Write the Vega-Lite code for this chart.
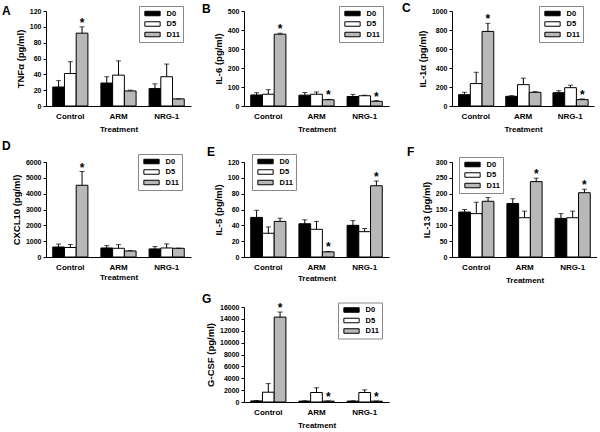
{
  "$schema": "https://vega.github.io/schema/vega-lite/v6.json",
  "padding": {"left": 2, "top": 2, "right": 0, "bottom": 0},
  "background": "white",
  "datasets": {
    "A": [
      {"t": "Control", "d": "D0", "v": 24, "e": 32, "s": ""},
      {"t": "Control", "d": "D5", "v": 41, "e": 56, "s": ""},
      {"t": "Control", "d": "D11", "v": 92, "e": 100, "s": "*"},
      {"t": "ARM", "d": "D0", "v": 29, "e": 37, "s": ""},
      {"t": "ARM", "d": "D5", "v": 39, "e": 57, "s": ""},
      {"t": "ARM", "d": "D11", "v": 19, "e": 20, "s": ""},
      {"t": "NRG-1", "d": "D0", "v": 22, "e": 28, "s": ""},
      {"t": "NRG-1", "d": "D5", "v": 37, "e": 53, "s": ""},
      {"t": "NRG-1", "d": "D11", "v": 9, "e": 9, "s": ""}
    ],
    "B": [
      {"t": "Control", "d": "D0", "v": 58, "e": 70, "s": ""},
      {"t": "Control", "d": "D5", "v": 62, "e": 86, "s": ""},
      {"t": "Control", "d": "D11", "v": 378, "e": 383, "s": "*"},
      {"t": "ARM", "d": "D0", "v": 57, "e": 71, "s": ""},
      {"t": "ARM", "d": "D5", "v": 62, "e": 74, "s": ""},
      {"t": "ARM", "d": "D11", "v": 33, "e": 35, "s": "*"},
      {"t": "NRG-1", "d": "D0", "v": 50, "e": 61, "s": ""},
      {"t": "NRG-1", "d": "D5", "v": 54, "e": 57, "s": ""},
      {"t": "NRG-1", "d": "D11", "v": 25, "e": 28, "s": "*"}
    ],
    "C": [
      {"t": "Control", "d": "D0", "v": 119, "e": 144, "s": ""},
      {"t": "Control", "d": "D5", "v": 236, "e": 355, "s": ""},
      {"t": "Control", "d": "D11", "v": 785, "e": 870, "s": "*"},
      {"t": "ARM", "d": "D0", "v": 102, "e": 109, "s": ""},
      {"t": "ARM", "d": "D5", "v": 225, "e": 293, "s": ""},
      {"t": "ARM", "d": "D11", "v": 144, "e": 151, "s": ""},
      {"t": "NRG-1", "d": "D0", "v": 140, "e": 161, "s": ""},
      {"t": "NRG-1", "d": "D5", "v": 193, "e": 219, "s": ""},
      {"t": "NRG-1", "d": "D11", "v": 67, "e": 74, "s": "*"}
    ],
    "D": [
      {"t": "Control", "d": "D0", "v": 630, "e": 820, "s": ""},
      {"t": "Control", "d": "D5", "v": 600, "e": 790, "s": ""},
      {"t": "Control", "d": "D11", "v": 4530, "e": 5400, "s": "*"},
      {"t": "ARM", "d": "D0", "v": 570, "e": 720, "s": ""},
      {"t": "ARM", "d": "D5", "v": 550, "e": 780, "s": ""},
      {"t": "ARM", "d": "D11", "v": 380, "e": 400, "s": ""},
      {"t": "NRG-1", "d": "D0", "v": 510, "e": 660, "s": ""},
      {"t": "NRG-1", "d": "D5", "v": 570, "e": 830, "s": ""},
      {"t": "NRG-1", "d": "D11", "v": 550, "e": 560, "s": ""}
    ],
    "E": [
      {"t": "Control", "d": "D0", "v": 50, "e": 59, "s": ""},
      {"t": "Control", "d": "D5", "v": 30, "e": 38, "s": ""},
      {"t": "Control", "d": "D11", "v": 45, "e": 49, "s": ""},
      {"t": "ARM", "d": "D0", "v": 42, "e": 47, "s": ""},
      {"t": "ARM", "d": "D5", "v": 35, "e": 45, "s": ""},
      {"t": "ARM", "d": "D11", "v": 6.5, "e": 7, "s": "*"},
      {"t": "NRG-1", "d": "D0", "v": 40, "e": 46, "s": ""},
      {"t": "NRG-1", "d": "D5", "v": 32, "e": 36, "s": ""},
      {"t": "NRG-1", "d": "D11", "v": 90, "e": 96, "s": "*"}
    ],
    "F": [
      {"t": "Control", "d": "D0", "v": 142, "e": 150, "s": ""},
      {"t": "Control", "d": "D5", "v": 137, "e": 173, "s": ""},
      {"t": "Control", "d": "D11", "v": 176, "e": 188, "s": ""},
      {"t": "ARM", "d": "D0", "v": 169, "e": 184, "s": ""},
      {"t": "ARM", "d": "D5", "v": 124, "e": 145, "s": ""},
      {"t": "ARM", "d": "D11", "v": 238, "e": 249, "s": "*"},
      {"t": "NRG-1", "d": "D0", "v": 122, "e": 137, "s": ""},
      {"t": "NRG-1", "d": "D5", "v": 124, "e": 145, "s": ""},
      {"t": "NRG-1", "d": "D11", "v": 203, "e": 214, "s": "*"}
    ],
    "G": [
      {"t": "Control", "d": "D0", "v": 180, "e": 250, "s": ""},
      {"t": "Control", "d": "D5", "v": 1650, "e": 3100, "s": ""},
      {"t": "Control", "d": "D11", "v": 14300, "e": 15150, "s": "*"},
      {"t": "ARM", "d": "D0", "v": 150, "e": 200, "s": ""},
      {"t": "ARM", "d": "D5", "v": 1600, "e": 2400, "s": ""},
      {"t": "ARM", "d": "D11", "v": 150, "e": 180, "s": "*"},
      {"t": "NRG-1", "d": "D0", "v": 150, "e": 200, "s": ""},
      {"t": "NRG-1", "d": "D5", "v": 1600, "e": 2050, "s": ""},
      {"t": "NRG-1", "d": "D11", "v": 140, "e": 170, "s": "*"}
    ]
  },
  "config": {
    "view": {"stroke": null},
    "font": "Liberation Sans",
    "axis": {"domainColor": "black", "tickColor": "black", "labelColor": "black", "titleColor": "black", "labelFont": "Liberation Sans", "titleFont": "Liberation Sans", "labelFontWeight": "bold", "titleFontWeight": "bold", "grid": false, "tickSize": 3, "domainWidth": 1, "tickWidth": 1},
    "axisY": {"labelFontSize": 7, "titleFontSize": 9.5, "labelPadding": 2, "titlePadding": 4, "format": "d"},
    "axisX": {"labelFontSize": 8, "titleFontSize": 8, "ticks": false, "labelAngle": 0, "labelPadding": 6, "titlePadding": 5},
    "legend": {"orient": "none", "title": null, "symbolType": "M-1.7,-0.5H1.7V0.5H-1.7Z", "symbolSize": 81, "symbolStrokeColor": "black", "symbolStrokeWidth": 1, "symbolOffset": 6, "labelOffset": 9, "strokeColor": "#888888", "fillColor": "white", "padding": 2.5, "rowPadding": 0.5, "labelFontSize": 7.5, "labelFont": "Liberation Sans", "labelFontWeight": "bold", "labelColor": "black"},
    "title": {"font": "Liberation Sans", "fontSize": 12, "fontWeight": "bold", "anchor": "start", "frame": "group", "color": "black", "offset": 0}
  },
  "columns": 3,
  "bounds": "flush",
  "spacing": {"row": 50, "column": 53},
  "resolve": {"scale": {"color": "independent"}, "legend": {"color": "independent"}},
  "concat": [
    {
      "width": 145, "height": 101,
      "title": {"text": "A", "dx": -44, "dy": 16.5},
      "data": {"name": "A"},
      "encoding": {
        "x": {"field": "t", "type": "nominal", "sort": ["Control", "ARM", "NRG-1"], "title": "Treatment", "scale": {"paddingInner": 0.27, "paddingOuter": 0.14}, "axis": {"offset": -6}},
        "xOffset": {"field": "d", "type": "nominal", "sort": ["D0", "D5", "D11"], "scale": {"paddingInner": 0, "paddingOuter": 0}},
        "y": {"field": "v", "type": "quantitative", "title": "TNFα (pg/ml)", "scale": {"domain": [0, 120], "nice": false, "range": [95, 0]}, "axis": {"values": [0, 20, 40, 60, 80, 100, 120]}}
      },
      "layer": [
        {"mark": {"type": "bar", "stroke": "black", "strokeWidth": 1}, "encoding": {"color": {"field": "d", "type": "nominal", "scale": {"domain": ["D0", "D5", "D11"], "range": ["#000000", "#ffffff", "#b8b8b8"]}, "legend": {"legendX": 93, "legendY": -5}}}},
        {"mark": {"type": "rule", "color": "black"}, "encoding": {"y2": {"field": "e"}}},
        {"mark": {"type": "tick", "color": "black", "size": 5, "thickness": 1}, "encoding": {"y": {"field": "e", "type": "quantitative", "title": "TNFα (pg/ml)", "scale": {"domain": [0, 120], "nice": false, "range": [95, 0]}, "axis": {"values": [0, 20, 40, 60, 80, 100, 120]}}}},
        {"mark": {"type": "text", "fontSize": 12, "fontWeight": "bold", "baseline": "alphabetic", "color": "black"}, "encoding": {"y": {"field": "e", "type": "quantitative", "title": "TNFα (pg/ml)", "scale": {"domain": [0, 120], "nice": false, "range": [95, 0]}, "axis": {"values": [0, 20, 40, 60, 80, 100, 120]}}, "text": {"field": "s"}}}
      ]
    },
    {
      "width": 155, "height": 101,
      "title": {"text": "B", "dx": -42, "dy": 14},
      "data": {"name": "B"},
      "encoding": {
        "x": {"field": "t", "type": "nominal", "sort": ["Control", "ARM", "NRG-1"], "title": "Treatment", "scale": {"paddingInner": 0.27, "paddingOuter": 0.14, "range": [0, 145]}, "axis": {"offset": -6}},
        "xOffset": {"field": "d", "type": "nominal", "sort": ["D0", "D5", "D11"], "scale": {"paddingInner": 0, "paddingOuter": 0}},
        "y": {"field": "v", "type": "quantitative", "title": "IL-6 (pg/ml)", "scale": {"domain": [0, 500], "nice": false, "range": [95, 0]}, "axis": {"values": [0, 100, 200, 300, 400, 500]}}
      },
      "layer": [
        {"mark": {"type": "bar", "stroke": "black", "strokeWidth": 1}, "encoding": {"color": {"field": "d", "type": "nominal", "scale": {"domain": ["D0", "D5", "D11"], "range": ["#000000", "#ffffff", "#b8b8b8"]}, "legend": {"legendX": 95, "legendY": -5}}}},
        {"mark": {"type": "rule", "color": "black"}, "encoding": {"y2": {"field": "e"}}},
        {"mark": {"type": "tick", "color": "black", "size": 5, "thickness": 1}, "encoding": {"y": {"field": "e", "type": "quantitative", "title": "IL-6 (pg/ml)", "scale": {"domain": [0, 500], "nice": false, "range": [95, 0]}, "axis": {"values": [0, 100, 200, 300, 400, 500]}}}},
        {"mark": {"type": "text", "fontSize": 12, "fontWeight": "bold", "baseline": "alphabetic", "color": "black"}, "encoding": {"y": {"field": "e", "type": "quantitative", "title": "IL-6 (pg/ml)", "scale": {"domain": [0, 500], "nice": false, "range": [95, 0]}, "axis": {"values": [0, 100, 200, 300, 400, 500]}}, "text": {"field": "s"}}}
      ]
    },
    {
      "width": 142, "height": 101,
      "title": {"text": "C", "dx": -50, "dy": 13.5},
      "data": {"name": "C"},
      "encoding": {
        "x": {"field": "t", "type": "nominal", "sort": ["Control", "ARM", "NRG-1"], "title": "Treatment", "scale": {"paddingInner": 0.27, "paddingOuter": 0.14}, "axis": {"offset": -6}},
        "xOffset": {"field": "d", "type": "nominal", "sort": ["D0", "D5", "D11"], "scale": {"paddingInner": 0, "paddingOuter": 0}},
        "y": {"field": "v", "type": "quantitative", "title": "IL-1α (pg/ml)", "scale": {"domain": [0, 1000], "nice": false, "range": [95, 0]}, "axis": {"values": [0, 200, 400, 600, 800, 1000]}}
      },
      "layer": [
        {"mark": {"type": "bar", "stroke": "black", "strokeWidth": 1}, "encoding": {"color": {"field": "d", "type": "nominal", "scale": {"domain": ["D0", "D5", "D11"], "range": ["#000000", "#ffffff", "#b8b8b8"]}, "legend": {"legendX": 87, "legendY": -5}}}},
        {"mark": {"type": "rule", "color": "black"}, "encoding": {"y2": {"field": "e"}}},
        {"mark": {"type": "tick", "color": "black", "size": 5, "thickness": 1}, "encoding": {"y": {"field": "e", "type": "quantitative", "title": "IL-1α (pg/ml)", "scale": {"domain": [0, 1000], "nice": false, "range": [95, 0]}, "axis": {"values": [0, 200, 400, 600, 800, 1000]}}}},
        {"mark": {"type": "text", "fontSize": 12, "fontWeight": "bold", "baseline": "alphabetic", "color": "black"}, "encoding": {"y": {"field": "e", "type": "quantitative", "title": "IL-1α (pg/ml)", "scale": {"domain": [0, 1000], "nice": false, "range": [95, 0]}, "axis": {"values": [0, 200, 400, 600, 800, 1000]}}, "text": {"field": "s"}}}
      ]
    },
    {
      "width": 145, "height": 95,
      "title": {"text": "D", "dx": -44, "dy": 3.5},
      "data": {"name": "D"},
      "encoding": {
        "x": {"field": "t", "type": "nominal", "sort": ["Control", "ARM", "NRG-1"], "title": "Treatment", "scale": {"paddingInner": 0.27, "paddingOuter": 0.14}, "axis": {"titlePadding": 2}},
        "xOffset": {"field": "d", "type": "nominal", "sort": ["D0", "D5", "D11"], "scale": {"paddingInner": 0, "paddingOuter": 0}},
        "y": {"field": "v", "type": "quantitative", "title": "CXCL10 (pg/ml)", "scale": {"domain": [0, 6000], "nice": false}, "axis": {"values": [0, 1000, 2000, 3000, 4000, 5000, 6000]}}
      },
      "layer": [
        {"mark": {"type": "bar", "stroke": "black", "strokeWidth": 1}, "encoding": {"color": {"field": "d", "type": "nominal", "scale": {"domain": ["D0", "D5", "D11"], "range": ["#000000", "#ffffff", "#b8b8b8"]}, "legend": {"legendX": 92, "legendY": -8}}}},
        {"mark": {"type": "rule", "color": "black"}, "encoding": {"y2": {"field": "e"}}},
        {"mark": {"type": "tick", "color": "black", "size": 5, "thickness": 1}, "encoding": {"y": {"field": "e", "type": "quantitative", "title": "CXCL10 (pg/ml)", "scale": {"domain": [0, 6000], "nice": false}, "axis": {"values": [0, 1000, 2000, 3000, 4000, 5000, 6000]}}}},
        {"mark": {"type": "text", "fontSize": 12, "fontWeight": "bold", "baseline": "alphabetic", "color": "black"}, "encoding": {"y": {"field": "e", "type": "quantitative", "title": "CXCL10 (pg/ml)", "scale": {"domain": [0, 6000], "nice": false}, "axis": {"values": [0, 1000, 2000, 3000, 4000, 5000, 6000]}}, "text": {"field": "s"}}}
      ]
    },
    {
      "width": 155, "height": 95,
      "title": {"text": "E", "dx": -37, "dy": 9.5},
      "data": {"name": "E"},
      "encoding": {
        "x": {"field": "t", "type": "nominal", "sort": ["Control", "ARM", "NRG-1"], "title": "Treatment", "scale": {"paddingInner": 0.27, "paddingOuter": 0.14, "range": [0, 145]}, "axis": {"titlePadding": 3}},
        "xOffset": {"field": "d", "type": "nominal", "sort": ["D0", "D5", "D11"], "scale": {"paddingInner": 0, "paddingOuter": 0}},
        "y": {"field": "v", "type": "quantitative", "title": "IL-5 (pg/ml)", "scale": {"domain": [0, 120], "nice": false}, "axis": {"values": [0, 20, 40, 60, 80, 100, 120]}}
      },
      "layer": [
        {"mark": {"type": "bar", "stroke": "black", "strokeWidth": 1}, "encoding": {"color": {"field": "d", "type": "nominal", "scale": {"domain": ["D0", "D5", "D11"], "range": ["#000000", "#ffffff", "#b8b8b8"]}, "legend": {"legendX": 8, "legendY": -8}}}},
        {"mark": {"type": "rule", "color": "black"}, "encoding": {"y2": {"field": "e"}}},
        {"mark": {"type": "tick", "color": "black", "size": 5, "thickness": 1}, "encoding": {"y": {"field": "e", "type": "quantitative", "title": "IL-5 (pg/ml)", "scale": {"domain": [0, 120], "nice": false}, "axis": {"values": [0, 20, 40, 60, 80, 100, 120]}}}},
        {"mark": {"type": "text", "fontSize": 12, "fontWeight": "bold", "baseline": "alphabetic", "color": "black"}, "encoding": {"y": {"field": "e", "type": "quantitative", "title": "IL-5 (pg/ml)", "scale": {"domain": [0, 120], "nice": false}, "axis": {"values": [0, 20, 40, 60, 80, 100, 120]}}, "text": {"field": "s"}}}
      ]
    },
    {
      "width": 145, "height": 95,
      "title": {"text": "F", "dx": -45, "dy": 6.5},
      "data": {"name": "F"},
      "encoding": {
        "x": {"field": "t", "type": "nominal", "sort": ["Control", "ARM", "NRG-1"], "title": "Treatment", "scale": {"paddingInner": 0.27, "paddingOuter": 0.14}},
        "xOffset": {"field": "d", "type": "nominal", "sort": ["D0", "D5", "D11"], "scale": {"paddingInner": 0, "paddingOuter": 0}},
        "y": {"field": "v", "type": "quantitative", "title": "IL-13 (pg/ml)", "scale": {"domain": [0, 300], "nice": false}, "axis": {"values": [0, 50, 100, 150, 200, 250, 300]}}
      },
      "layer": [
        {"mark": {"type": "bar", "stroke": "black", "strokeWidth": 1}, "encoding": {"color": {"field": "d", "type": "nominal", "scale": {"domain": ["D0", "D5", "D11"], "range": ["#000000", "#ffffff", "#b8b8b8"]}, "legend": {"legendX": 7, "legendY": -5}}}},
        {"mark": {"type": "rule", "color": "black"}, "encoding": {"y2": {"field": "e"}}},
        {"mark": {"type": "tick", "color": "black", "size": 5, "thickness": 1}, "encoding": {"y": {"field": "e", "type": "quantitative", "title": "IL-13 (pg/ml)", "scale": {"domain": [0, 300], "nice": false}, "axis": {"values": [0, 50, 100, 150, 200, 250, 300]}}}},
        {"mark": {"type": "text", "fontSize": 12, "fontWeight": "bold", "baseline": "alphabetic", "color": "black"}, "encoding": {"y": {"field": "e", "type": "quantitative", "title": "IL-13 (pg/ml)", "scale": {"domain": [0, 300], "nice": false}, "axis": {"values": [0, 50, 100, 150, 200, 250, 300]}}, "text": {"field": "s"}}}
      ]
    },
    {"width": 145, "height": 95, "data": {"values": []}, "mark": "point", "encoding": {}},
    {
      "width": 155, "height": 95,
      "title": {"text": "G", "dx": -42, "dy": 8},
      "data": {"name": "G"},
      "encoding": {
        "x": {"field": "t", "type": "nominal", "sort": ["Control", "ARM", "NRG-1"], "title": "Treatment", "scale": {"paddingInner": 0.27, "paddingOuter": 0.14, "range": [0, 145]}},
        "xOffset": {"field": "d", "type": "nominal", "sort": ["D0", "D5", "D11"], "scale": {"paddingInner": 0, "paddingOuter": 0}},
        "y": {"field": "v", "type": "quantitative", "title": "G-CSF (pg/ml)", "scale": {"domain": [0, 16000], "nice": false}, "axis": {"values": [0, 2000, 4000, 6000, 8000, 10000, 12000, 14000, 16000]}}
      },
      "layer": [
        {"mark": {"type": "bar", "stroke": "black", "strokeWidth": 1}, "encoding": {"color": {"field": "d", "type": "nominal", "scale": {"domain": ["D0", "D5", "D11"], "range": ["#000000", "#ffffff", "#b8b8b8"]}, "legend": {"legendX": 94, "legendY": -4.5}}}},
        {"mark": {"type": "rule", "color": "black"}, "encoding": {"y2": {"field": "e"}}},
        {"mark": {"type": "tick", "color": "black", "size": 5, "thickness": 1}, "encoding": {"y": {"field": "e", "type": "quantitative", "title": "G-CSF (pg/ml)", "scale": {"domain": [0, 16000], "nice": false}, "axis": {"values": [0, 2000, 4000, 6000, 8000, 10000, 12000, 14000, 16000]}}}},
        {"mark": {"type": "text", "fontSize": 12, "fontWeight": "bold", "baseline": "alphabetic", "color": "black"}, "encoding": {"y": {"field": "e", "type": "quantitative", "title": "G-CSF (pg/ml)", "scale": {"domain": [0, 16000], "nice": false}, "axis": {"values": [0, 2000, 4000, 6000, 8000, 10000, 12000, 14000, 16000]}}, "text": {"field": "s"}}}
      ]
    }
  ]
}
